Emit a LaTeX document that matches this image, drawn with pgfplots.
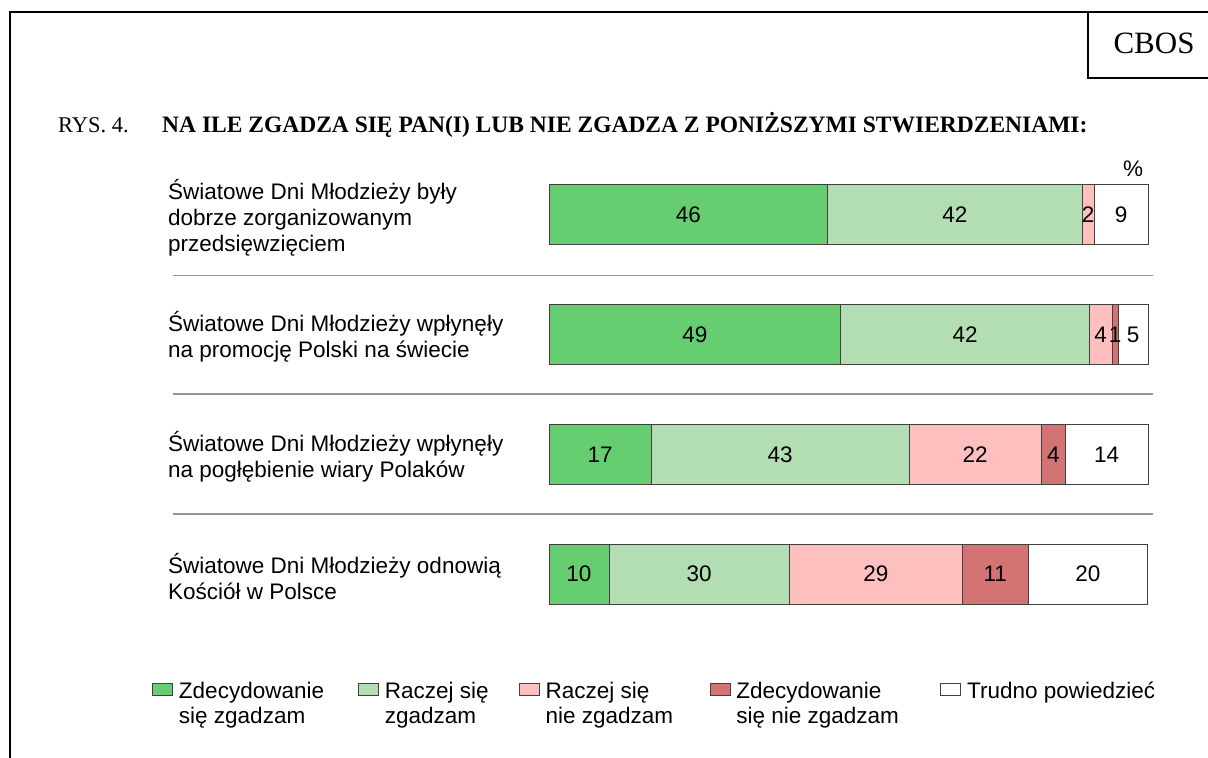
\documentclass[border=0pt]{standalone}
\usepackage{pgfplots}
\pgfplotsset{compat=1.18}
\usepackage{fontspec}
\setmainfont{Liberation Sans}
\newfontfamily\serif{Liberation Serif}
\definecolor{c1}{RGB}{102,205,112}
\definecolor{c2}{RGB}{179,221,179}
\definecolor{c3}{RGB}{255,191,191}
\definecolor{c4}{RGB}{211,115,115}
\definecolor{c5}{RGB}{255,255,255}
\definecolor{sep}{RGB}{150,150,150}
\newcommand\lf{\fontsize{22.5bp}{26bp}\selectfont}
\pgfplotsset{
  myleg/.style={legend image code/.code={\draw[##1, line width=0.8bp] (0bp,3bp) rectangle (20bp,15bp); \path (26bp,0bp);}},
}
\begin{document}
\begin{tikzpicture}[x=1bp,y=1bp]
\path[use as bounding box] (0,0) rectangle (1208,758);
\draw[line width=2bp] (10,0) -- (10,746) -- (1208,746);
\draw[line width=2bp] (1088,746) -- (1088,680) -- (1208,680);
\node[anchor=base, inner sep=0, font=\serif\fontsize{31bp}{36bp}\selectfont] at (1154,704) {CBOS};
\node[anchor=base west, inner sep=0, font=\serif\fontsize{22.5bp}{26bp}\selectfont] at (58,625) {RYS. 4.};
\node[anchor=base west, inner sep=0, font=\serif\bfseries\fontsize{23.5bp}{26bp}\selectfont] at (162,625) {NA ILE ZGADZA SIĘ PAN(I) LUB NIE ZGADZA Z PONIŻSZYMI STWIERDZENIAMI:};
\node[anchor=base west, inner sep=0, font=\lf] at (1123,581) {\%};
\draw[sep, line width=1.5bp] (173,482.5) -- (1153,482.5);
\draw[sep, line width=1.5bp] (173,364) -- (1153,364);
\draw[sep, line width=1.5bp] (173,244) -- (1153,244);
\node[anchor=west, align=left, inner sep=0, font=\lf] at (168,540.5) {Światowe Dni Młodzieży były\\dobrze zorganizowanym\\przedsięwzięciem};
\node[anchor=west, align=left, inner sep=0, font=\lf] at (168,421) {Światowe Dni Młodzieży wpłynęły\\na promocję Polski na świecie};
\node[anchor=west, align=left, inner sep=0, font=\lf] at (168,301.5) {Światowe Dni Młodzieży wpłynęły\\na pogłębienie wiary Polaków};
\node[anchor=west, align=left, inner sep=0, font=\lf] at (168,181.5) {Światowe Dni Młodzieży odnowią\\Kościół w Polsce};
\begin{axis}[
  at={(549bp,124.15bp)}, anchor=south west,
  scale only axis, width=599bp, height=478.8bp,
  xmin=0, xmax=100, ymin=-0.5, ymax=3.5, y dir=reverse,
  axis lines=none, clip=false,
  xbar stacked, bar width=60bp,
  point meta=explicit symbolic,
  nodes near coords,
  every node near coord/.append style={font=\lf, text=black, anchor=center, inner sep=0},
  legend columns=5,
  legend style={at={(-0.6628,-0.0997)}, anchor=north west, draw=none, fill=none,
    inner sep=0pt, column sep=0pt, font=\fontsize{22.5bp}{25bp}\selectfont,
    nodes={inner sep=0pt}, cells={anchor=base west}},
]
\addplot[fill=c1, draw=black!75, line width=0.8bp, myleg] coordinates {(46.5,0) [46] (48.7,1) [49] (17.1,2) [17] (10.0,3) [10]};
\addlegendentry{\parbox[t]{179bp}{Zdecydowanie\\się zgadzam}}
\addplot[fill=c2, draw=black!75, line width=0.8bp, myleg] coordinates {(42.5,0) [42] (41.5,1) [42] (43.0,2) [43] (30.1,3) [30]};
\addlegendentry{\parbox[t]{134bp}{Raczej się\\zgadzam}}
\addplot[fill=c3, draw=black!75, line width=0.8bp, myleg] coordinates {(2.0,0) [2] (3.8,1) [4] (22.1,2) [22] (28.9,3) [29]};
\addlegendentry{\parbox[t]{164bp}{Raczej się\\nie zgadzam}}
\addplot[fill=c4, draw=black!75, line width=0.8bp, myleg] coordinates {(0,0) [] (1.0,1) [1] (4.0,2) [4] (11.0,3) [11]};
\addlegendentry{\parbox[t]{204bp}{Zdecydowanie\\się nie zgadzam}}
\addplot[fill=c5, draw=black!75, line width=0.8bp, myleg] coordinates {(9.0,0) [9] (5.0,1) [5] (13.8,2) [14] (19.9,3) [20]};
\addlegendentry{\parbox[t]{200bp}{Trudno powiedzieć}}
\end{axis}
\end{tikzpicture}
\end{document}
